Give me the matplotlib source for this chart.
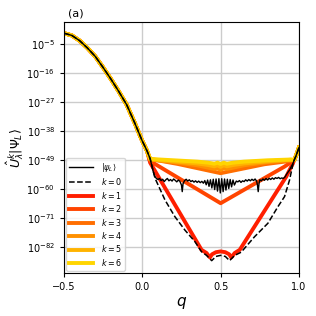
import numpy as np
import matplotlib
matplotlib.use("Agg")
import matplotlib.pyplot as plt
from matplotlib.ticker import NullLocator, FixedLocator

# shared gaussian-like head (q, log10 overlap)
head_q = [-0.5, -0.45, -0.4, -0.35, -0.3, -0.25, -0.2, -0.15, -0.1, -0.05, 0.0, 0.03]
head_log = [-0.85, -1.7, -3.7, -6.5, -9.7, -13.9, -18.3, -23.0, -28.0, -34.7, -41.8, -45.5]

# shared rise at the right edge
tail_q = [0.97, 0.98, 0.99, 1.0]
tail_log = [-49.0, -47.6, -46.0, -44.3]

# |psi_L> noise floor
psi_q = [0.05, 0.06, 0.07, 0.08, 0.09, 0.10, 0.11, 0.12, 0.13, 0.14, 0.15, 0.16, 0.17,
         0.18, 0.19, 0.20, 0.21, 0.22, 0.23, 0.24, 0.25, 0.255, 0.26, 0.27, 0.28, 0.29,
         0.30, 0.31, 0.32, 0.33, 0.34, 0.35, 0.36, 0.37, 0.38, 0.39,
         0.399, 0.408, 0.417, 0.426, 0.435, 0.444, 0.453, 0.462, 0.471, 0.480, 0.489,
         0.498, 0.507, 0.516, 0.525, 0.534, 0.543, 0.552, 0.561, 0.570, 0.579, 0.588,
         0.60, 0.61, 0.62, 0.63, 0.64, 0.65, 0.66, 0.67, 0.68, 0.69, 0.70, 0.71, 0.72, 0.73,
         0.735, 0.74, 0.745, 0.75, 0.76, 0.77, 0.78, 0.79, 0.80, 0.81, 0.82, 0.83, 0.84,
         0.85, 0.86, 0.87, 0.88, 0.89, 0.90, 0.91, 0.92, 0.93, 0.94, 0.96]
psi_log = [-48.5, -51.0, -53.5, -55.2, -56.0, -56.4, -56.0, -56.8, -56.3, -57.2, -56.5, -56.0, -56.9,
           -56.4, -57.0, -56.2, -56.7, -57.3, -56.6, -57.1, -58.5, -61.0, -58.0, -56.8, -56.3, -57.0,
           -56.5, -57.2, -56.8, -57.4, -56.9, -57.5, -57.0, -57.6, -57.1, -57.8,
           -56.8, -58.4, -56.6, -59.0, -56.5, -59.6, -56.3, -60.2, -56.2, -60.8, -56.1,
           -61.5, -56.1, -61.0, -56.2, -60.4, -56.3, -59.8, -56.4, -59.2, -56.6, -58.5,
           -57.0, -57.3, -56.8, -57.5, -56.9, -57.2, -56.5, -57.0, -56.4, -56.9, -56.3, -56.8, -56.2, -57.0,
           -58.5, -61.0, -58.0, -56.5, -56.9, -56.2, -56.7, -56.0, -56.6, -55.9, -56.4, -55.8, -56.3,
           -55.7, -56.0, -55.6, -56.1, -55.8, -56.0, -55.5, -54.5, -53.6, -52.8, -50.5]

# k = 0 (dashed)
k0_q = [0.05, 0.081, 0.145, 0.208, 0.272, 0.336, 0.378, 0.41, 0.443, 0.47, 0.5, 0.53,
        0.557, 0.59, 0.631, 0.717, 0.802, 0.866, 0.908, 0.94, 0.96]
k0_log = [-48.5, -55.9, -64.2, -70.5, -75.6, -80.0, -83.8, -85.2, -87.2, -85.6, -85.2, -85.6,
          -87.2, -85.2, -84.0, -78.1, -73.0, -66.7, -62.9, -56.6, -51.0]

# k = 1..6 tails
k1_q = [0.05, 0.378, 0.41, 0.432, 0.445, 0.47, 0.5, 0.53, 0.555, 0.568, 0.59, 0.622, 0.919, 0.94, 0.96]
k1_log = [-50.0, -83.1, -84.3, -86.0, -84.8, -84.0, -83.7, -84.0, -84.8, -86.0, -84.3, -83.1, -55.3, -52.8, -50.5]
k2_q = [0.05, 0.5, 0.908, 0.95]
k2_log = [-49.4, -65.4, -51.5, -49.8]
k3_q = [0.05, 0.227, 0.5, 0.78, 0.95]
k3_log = [-48.6, -50.5, -54.0, -50.6, -49.3]
k4_q = [0.05, 0.2, 0.35, 0.42, 0.46, 0.48, 0.5, 0.52, 0.54, 0.58, 0.65, 0.8, 0.95]
k4_log = [-48.8, -49.8, -51.0, -51.9, -52.4, -52.1, -52.8, -52.1, -52.4, -51.9, -51.0, -49.8, -49.0]
k5_q = [0.05, 0.2, 0.35, 0.42, 0.46, 0.48, 0.5, 0.52, 0.54, 0.58, 0.65, 0.8, 0.95]
k5_log = [-48.7, -49.5, -50.3, -50.9, -51.4, -51.0, -51.6, -51.0, -51.4, -50.9, -50.3, -49.5, -48.9]
k6_q = [0.05, 0.2, 0.35, 0.42, 0.46, 0.48, 0.5, 0.52, 0.54, 0.58, 0.65, 0.8, 0.95]
k6_log = [-48.6, -49.1, -49.6, -50.0, -50.4, -50.0, -50.5, -50.0, -50.4, -50.0, -49.6, -49.1, -48.8]

k_colors = ["#ff1e00", "#ff4400", "#ff6e00", "#ff9000", "#ffb300", "#ffd500"]
k_tails = [(k1_q, k1_log), (k2_q, k2_log), (k3_q, k3_log),
           (k4_q, k4_log), (k5_q, k5_log), (k6_q, k6_log)]


def full(q, lg):
    qq = np.array(head_q + q + tail_q)
    ll = np.array(head_log + lg + tail_log)
    return qq, 10.0 ** ll


fig = plt.figure(figsize=(3.16, 3.16), dpi=100)
ax = fig.add_axes([0.2025, 0.136, 0.7435, 0.794])

for i, (q, lg) in enumerate(k_tails):
    qq, vv = full(q, lg)
    ax.plot(qq, vv, color=k_colors[i], lw=2.8, label=r"$k=%d$" % (i + 1), zorder=2 + i * 0.01)

qq, vv = full(psi_q, psi_log)
ax.plot(qq, vv, color="k", lw=1.0, label=r"$|\psi_L\rangle$", zorder=4)
qq, vv = full(k0_q, k0_log)
ax.plot(qq, vv, color="k", lw=1.1, ls="--", label=r"$k=0$", zorder=3)

ax.set_yscale("log")
ax.set_xlim(-0.5, 1.0)
ax.set_ylim(10.0 ** -91.9, 10.0 ** 3.35)
ax.yaxis.set_major_locator(FixedLocator([10.0 ** e for e in [-82, -71, -60, -49, -38, -27, -16, -5]]))
ax.yaxis.set_minor_locator(NullLocator())
ax.set_xticks([-0.5, 0.0, 0.5, 1.0])
ax.tick_params(labelsize=7, length=3, width=0.8)
ax.grid(True, color="#cccccc", lw=1.0)
ax.set_axisbelow(True)

ax.set_xlabel(r"$q$", fontsize=11, labelpad=2)
ax.set_ylabel(r"$\hat{U}^{k}_{\lambda}|\Psi_L\rangle$", fontsize=9, labelpad=0)
ax.set_title("(a)", loc="left", fontsize=8, pad=4, x=0.015)

h, l = ax.get_legend_handles_labels()
order = [6, 7, 0, 1, 2, 3, 4, 5]
ax.legend([h[i] for i in order], [l[i] for i in order], loc="lower left", fontsize=5.8,
          handlelength=3.0, labelspacing=0.3, borderaxespad=0.25, borderpad=0.4,
          handletextpad=0.9, framealpha=0.8)

fig.savefig("out.png", dpi=100)
